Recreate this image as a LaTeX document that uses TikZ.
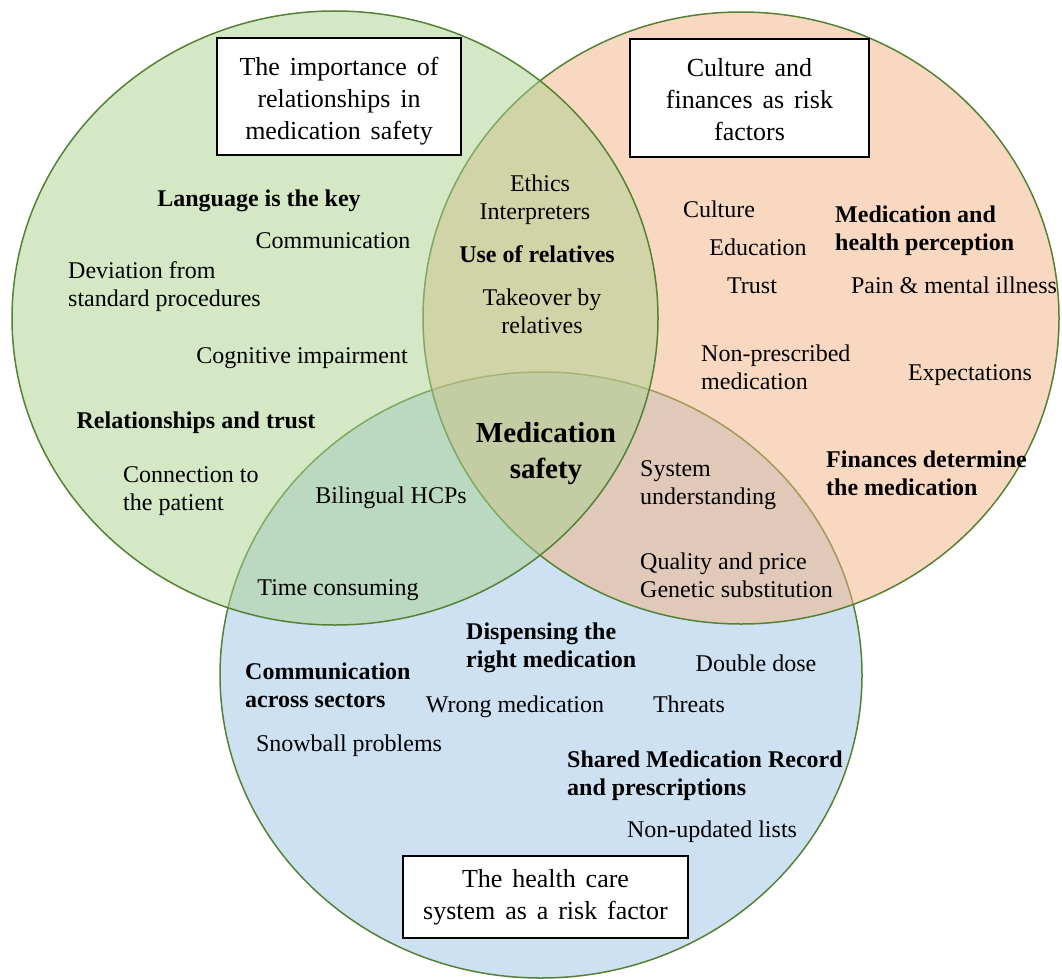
\documentclass[tikz,border=0pt]{standalone}
\usepackage{fontspec}
\setmainfont{Liberation Serif}
\definecolor{cgreen}{HTML}{A9D18E}
\definecolor{corange}{HTML}{F4B183}
\definecolor{cblue}{HTML}{9DC3E6}
\definecolor{cline}{HTML}{548235}
\newcommand\ttlfont{\fontsize{26}{32}\selectfont\spaceskip 0.38em\relax}
\begin{document}
\begin{tikzpicture}[x=1pt,y=-1pt,
  circ/.style={draw=cline, line width=1.5pt, fill opacity=0.5},
  lbl/.style={inner sep=0pt, text depth=0pt, font=\fontsize{24}{28}\selectfont},
  blbl/.style={inner sep=0pt, text depth=0pt, font=\fontsize{24}{28}\selectfont\bfseries},
  ttl/.style={draw=black, line width=1.3pt, fill=white, inner sep=0pt, align=center,
    font=\ttlfont}]
\useasboundingbox (0,0) rectangle (1062,979);
% circles
\draw[circ, fill=cblue] (541,675) ellipse [x radius=321, y radius=303];
\draw[circ, fill=corange] (741,318) ellipse [x radius=318, y radius=306];
\draw[circ, fill=cgreen] (335,318) ellipse [x radius=323, y radius=307];
% title boxes
\node[ttl, minimum width=244pt, minimum height=117pt] (t1) at (339,96.5) {\rule{0pt}{27.5pt}The importance of\\relationships in\\medication safety};
\node[ttl, minimum width=239pt, minimum height=118pt] (t2) at (749.5,98) {\rule{0pt}{21.5pt}Culture and\\finances as risk\\factors};
\node[ttl, minimum width=285pt, minimum height=82pt] (t3) at (545.5,897) {The health care\\system as a risk factor};
% green
\node[blbl] (lang) at (259,198) {Language is the key};
\node[lbl] (comm) at (333,241) {Communication};
\node[lbl, anchor=west, align=left] (dev) at (68,284) {Deviation from\\standard procedures};
\node[lbl] (cog) at (302,356) {Cognitive impairment};
\node[blbl] (rel) at (196,420) {Relationships and trust};
\node[lbl, anchor=west, align=left] (conn) at (123,489) {Connection to\\the patient};
\node[lbl] (bil) at (391,495) {Bilingual HCPs};
\node[lbl] (time) at (338,588) {Time consuming};
% green-orange
\node[lbl] (eth) at (540,183) {Ethics};
\node[lbl] (int) at (535,212) {Interpreters};
\node[blbl] (use) at (537,254) {Use of relatives};
\node[lbl, align=center] (take) at (542,311) {Takeover by\\relatives};
% centre
\node[inner sep=0pt, text depth=0pt, font=\fontsize{29}{36}\selectfont\bfseries, align=center] (ms) at (546,450) {Medication\\safety};
% orange-blue
\node[lbl, anchor=west, align=left] (sys) at (640,483) {System\\understanding};
\node[lbl, anchor=west, align=left] (qual) at (640,575) {Quality and price\\Genetic substitution};
% orange
\node[lbl] (cult) at (719,209) {Culture};
\node[lbl] (edu) at (758,247) {Education};
\node[lbl] (trust) at (752,286) {Trust};
\node[blbl, anchor=west, align=left] (medh) at (835,228) {Medication and\\health perception};
\node[lbl] (pain) at (954,285) {Pain \& mental illness};
\node[lbl, anchor=west, align=left] (nonp) at (701,367) {Non-prescribed\\medication};
\node[lbl] (exp) at (970,373) {Expectations};
\node[blbl, anchor=west, align=left] (fin) at (826,473) {Finances determine\\the medication};
% blue
\node[blbl, anchor=west, align=left] (disp) at (466,645) {Dispensing the\\right medication};
\node[lbl] (dd) at (756,663) {Double dose};
\node[blbl, anchor=west, align=left] (cas) at (245,685) {Communication\\across sectors};
\node[lbl] (wm) at (515,704) {Wrong medication};
\node[lbl] (thr) at (689,704) {Threats};
\node[lbl] (snow) at (349,743) {Snowball problems};
\node[blbl, anchor=west, align=left] (smr) at (567,773) {Shared Medication Record\\and prescriptions};
\node[lbl] (nul) at (712,829) {Non-updated lists};
\end{tikzpicture}
\end{document}
